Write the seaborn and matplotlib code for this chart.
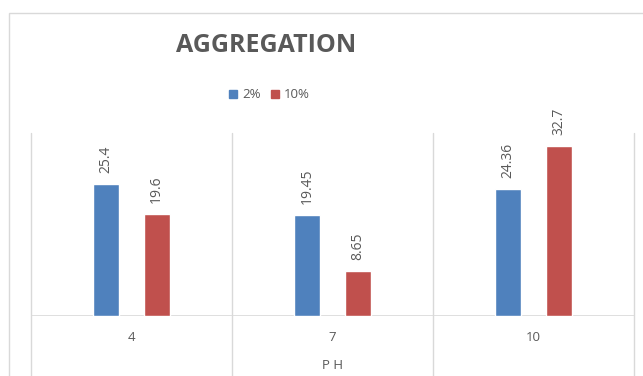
import pandas as pd
import matplotlib.pyplot as plt
from matplotlib.patches import Rectangle
from matplotlib.lines import Line2D
import seaborn as sns

# dados
ph = ['4', '7', '10']
conc_2 = [25.4, 19.45, 24.36]
conc_10 = [19.6, 8.65, 32.7]
rotulos_2 = ['25.4', '19.45', '24.36']
rotulos_10 = ['19.6', '8.65', '32.7']
series = ['2%', '10%']
cores = ['#4F81BD', '#C0504D']

df = pd.DataFrame({
    'ph': ph * 2,
    'valor': conc_2 + conc_10,
    'serie': [series[0]] * 3 + [series[1]] * 3,
})

sns.set_theme(style='white')
plt.rcParams['font.family'] = ['Open Sans', 'DejaVu Sans']
cinza = '#595959'
linha = '#D9D9D9'

fig = plt.figure(figsize=(6.43, 3.76), dpi=100)
ax = fig.add_axes([31 / 643, 60 / 376, 603 / 643, 183 / 376])

sns.barplot(data=df, x='ph', y='valor', hue='serie', order=ph, hue_order=series,
            palette=cores, width=0.5, gap=0.48, saturation=1, legend=False, ax=ax)

ax.set_xlim(-0.5, 2.5)
ax.set_ylim(0, 35.2)

# rótulos rotacionados acima das barras
for cont, rot in zip(ax.containers, [rotulos_2, rotulos_10]):
    ax.bar_label(cont, labels=rot, rotation=90, padding=8, fontsize=10, color=cinza)

# linhas verticais entre categorias (estendem abaixo do eixo)
for xv in [-0.5, 0.5, 1.5, 2.5]:
    ax.plot([xv, xv], [-60 / 183, 1], color=linha, lw=1,
            transform=ax.get_xaxis_transform(), clip_on=False, zorder=0)
ax.axhline(0, color=linha, lw=1.2, zorder=0)

for s in ax.spines.values():
    s.set_visible(False)
ax.set_yticks([])
ax.tick_params(axis='x', length=0, pad=11, labelsize=9.5, labelcolor=cinza)
ax.set_xlabel('P H', fontsize=9.5, color=cinza)
ax.xaxis.set_label_coords(0.5, -0.235)
ax.set_ylabel('')

# título e legenda
fig.text(266 / 643, 1 - 46 / 376, 'AGGREGATION', ha='center', va='center',
         fontsize=18, fontweight='bold', color=cinza)
handles = [Line2D([], [], marker='s', ls='', color=c, markersize=6) for c in cores]
fig.legend(handles, series, loc='center', bbox_to_anchor=(269 / 643, 1 - 95 / 376),
           ncol=2, frameon=False, fontsize=9.5, labelcolor=cinza,
           handlelength=0.7, handletextpad=0.35, columnspacing=0.7, borderpad=0)

# borda da área do gráfico
fig.patches.append(Rectangle((9 / 643, -0.1), 1.0, 1 - 13 / 376 + 0.1,
                             transform=fig.transFigure, fill=False,
                             edgecolor=linha, lw=1))

fig.savefig('out.png', dpi=100)
